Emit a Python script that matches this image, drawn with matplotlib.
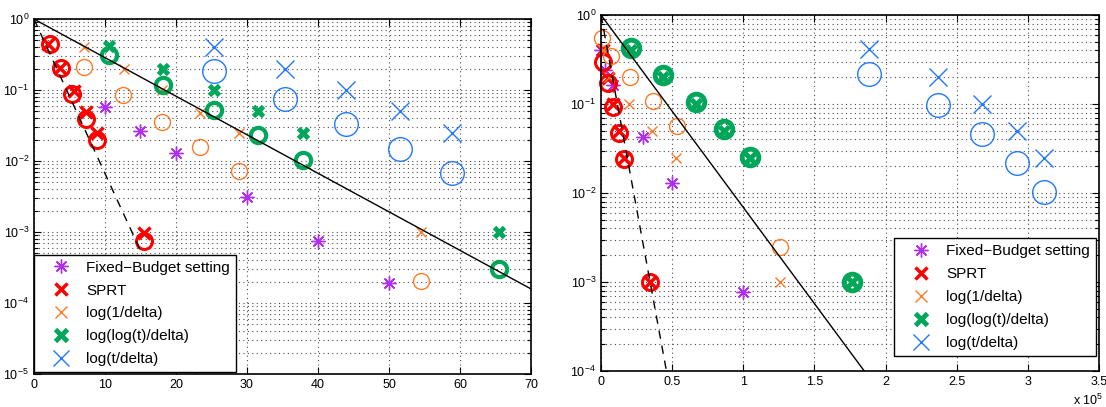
import numpy as np
import matplotlib
matplotlib.use('Agg')
import matplotlib.pyplot as plt
from matplotlib.lines import Line2D
from matplotlib.ticker import LogLocator, FixedLocator, FuncFormatter

plt.rcParams['font.family'] = ['Liberation Sans', 'DejaVu Sans']
plt.rcParams['mathtext.fontset'] = 'custom'
plt.rcParams['mathtext.rm'] = 'Liberation Sans'
plt.rcParams['mathtext.it'] = 'Liberation Sans'

# colours
purple = '#B02EF0'
red = '#FF0000'
orange = '#FF7A26'
green = '#00A65A'
blue = '#2178FF'

labels = ['Fixed\u2212Budget setting', 'SPRT', 'log(1/delta)', 'log(log(t)/delta)', 'log(t/delta)']

# ---- left panel data ----
fb_x_L = [10, 15, 20, 30, 40, 50]
fb_y_L = [0.058, 0.0265, 0.0128, 0.0031, 0.00075, 0.00019]
sprt_dx_L = [2.0, 3.7, 5.6, 7.3, 8.9, 15.5]
sprt_d_L = [0.45, 0.206, 0.098, 0.049, 0.0246, 0.00096]
sprt_ex_L = [2.25, 3.8, 5.4, 7.3, 8.9, 15.5]
sprt_e_L = [0.44, 0.206, 0.087, 0.0394, 0.0198, 0.00075]
l1_dx_L = [7.1, 12.7, 18.1, 23.4, 28.9, 54.5]
l1_d_L = [0.41, 0.2, 0.1, 0.047, 0.025, 0.001]
l1_ex_L = [7.1, 12.5, 18.0, 23.4, 28.9, 54.5]
l1_e_L = [0.213, 0.085, 0.0358, 0.0159, 0.0073, 0.000206]
ll_x_L = [10.5, 18.2, 25.3, 31.6, 37.9, 65.5]
ll_d_L = [0.42, 0.2, 0.1, 0.05, 0.025, 0.001]
ll_e_L = [0.31, 0.118, 0.052, 0.023, 0.0103, 0.0003]
lt_x_L = [25.4, 35.4, 43.9, 51.6, 58.9]
lt_d_L = [0.41, 0.2, 0.1, 0.05, 0.025]
lt_e_L = [0.187, 0.0747, 0.0328, 0.0148, 0.0067]
solid_L = ([0, 70], [1.0, 1.58e-4])
dashed_L = ([0, 23], [1.0, 1.0e-5])

# ---- right panel data (x in units of 1e5) ----
fb_x_R = [0.0, 0.028, 0.087, 0.294, 0.498, 1.0]
fb_y_R = [0.40, 0.24, 0.163, 0.043, 0.013, 0.00078]
sprt_x_R = [0.016, 0.051, 0.087, 0.129, 0.164, 0.345]
sprt_d_R = [0.4, 0.195, 0.1, 0.05, 0.025, 0.001]
sprt_e_R = [0.30, 0.17, 0.093, 0.047, 0.024, 0.001]
l1_dx_R = [0.016, 0.058, 0.2, 0.357, 0.528, 1.256]
l1_d_R = [0.4, 0.2, 0.1, 0.05, 0.025, 0.001]
l1_ex_R = [0.005, 0.068, 0.204, 0.364, 0.533, 1.256]
l1_e_R = [0.55, 0.35, 0.2, 0.109, 0.057, 0.0025]
ll_x_R = [0.211, 0.439, 0.667, 0.866, 1.05, 1.765]
ll_d_R = [0.4, 0.2, 0.1, 0.05, 0.025, 0.001]
ll_e_R = [0.43, 0.212, 0.104, 0.052, 0.0256, 0.001]
lt_x_R = [1.883, 2.37, 2.68, 2.92, 3.11]
lt_d_R = [0.41, 0.2, 0.1, 0.05, 0.025]
lt_e_R = [0.217, 0.097, 0.0456, 0.0216, 0.0103]
solid_R = ([0, 1.85], [1.0, 1.0e-4])
dashed_R = ([0, 0.46], [1.0, 1.0e-4])

asterisk = (8, 2, 0)
sty = {
    'fb': dict(marker=asterisk, ms=10, mew=1, color=purple),
    'sprt_d': dict(marker='x', ms=9, mew=2.5, color=red),
    'sprt_e': dict(marker='o', ms=11.5, mew=2.2, mfc='none', color=red),
    'l1_d': dict(marker='x', ms=7.5, mew=1, color=orange),
    'l1_e': dict(marker='o', ms=11.5, mew=1, mfc='none', color=orange),
    'll_d': dict(marker='x', ms=7.5, mew=3.5, color=green),
    'll_e': dict(marker='o', ms=11, mew=3, mfc='none', color=green),
    'lt_d': dict(marker='x', ms=12.5, mew=1, color=blue),
    'lt_e': dict(marker='o', ms=17, mew=1, mfc='none', color=blue),
}


def pts(ax, x, y, key):
    ax.plot(x, y, ls='none', clip_on=False, **sty[key])


def setup(ax):
    ax.set_yscale('log')
    grid_kw = dict(ls=(0, (1, 3)), lw=0.8, color='0.3')
    ax.grid(True, which='major', **grid_kw)
    ax.yaxis.grid(True, which='minor', **grid_kw)
    ax.tick_params(which='both', direction='in', top=True, right=True, labelsize=9, width=0.8)
    ax.tick_params(which='major', length=5)
    ax.tick_params(which='minor', length=3)
    ax.yaxis.set_minor_locator(LogLocator(base=10, subs=np.arange(2, 10)))
    ax.xaxis.set_minor_locator(FixedLocator([]))
    for s in ax.spines.values():
        s.set_linewidth(1.2)
    ax.set_axisbelow(True)


def add_legend(ax, anchor, loc):
    handles = [
        Line2D([], [], ls='none', **sty['fb']),
        Line2D([], [], ls='none', **sty['sprt_d']),
        Line2D([], [], ls='none', marker='x', ms=8, mew=1, color=orange),
        Line2D([], [], ls='none', marker='x', ms=9, mew=3.5, color=green),
        Line2D([], [], ls='none', marker='x', ms=12, mew=1, color=blue),
    ]
    leg = ax.legend(handles, labels, loc=loc, bbox_to_anchor=anchor, borderaxespad=0,
                    fontsize=11, frameon=True, fancybox=False, edgecolor='black', framealpha=1,
                    handletextpad=0.25, borderpad=0.4, labelspacing=0.58, handlelength=2.75)
    leg.get_frame().set_linewidth(1.0)


fig = plt.figure(figsize=(11.06, 4.07), dpi=100)
axL = fig.add_axes([0.0307, 0.0811, 0.4494, 0.872])
axR = fig.add_axes([0.5434, 0.0885, 0.4503, 0.8747])

# left
setup(axL)
pts(axL, fb_x_L, fb_y_L, 'fb')
pts(axL, sprt_dx_L, sprt_d_L, 'sprt_d')
pts(axL, l1_dx_L, l1_d_L, 'l1_d')
pts(axL, ll_x_L, ll_d_L, 'll_d')
pts(axL, lt_x_L, lt_d_L, 'lt_d')
pts(axL, sprt_ex_L, sprt_e_L, 'sprt_e')
pts(axL, l1_ex_L, l1_e_L, 'l1_e')
pts(axL, ll_x_L, ll_e_L, 'll_e')
pts(axL, lt_x_L, lt_e_L, 'lt_e')
axL.plot(*solid_L, color='black', lw=1)
axL.plot(*dashed_L, color='black', lw=1, ls=(0, (6, 5)))
axL.set_xlim(0, 70)
axL.set_ylim(1e-5, 1)
axL.set_xticks(range(0, 71, 10))
add_legend(axL, (0.0, 0.005), 'lower left')

# right
setup(axR)
pts(axR, fb_x_R, fb_y_R, 'fb')
pts(axR, sprt_x_R, sprt_d_R, 'sprt_d')
pts(axR, l1_dx_R, l1_d_R, 'l1_d')
pts(axR, ll_x_R, ll_d_R, 'll_d')
pts(axR, lt_x_R, lt_d_R, 'lt_d')
pts(axR, sprt_x_R, sprt_e_R, 'sprt_e')
pts(axR, l1_ex_R, l1_e_R, 'l1_e')
axR.plot(ll_x_R, ll_e_R, ls='none', clip_on=False, marker='o', ms=12, mew=3.5, mfc='none', color=green)
pts(axR, lt_x_R, lt_e_R, 'lt_e')
axR.plot(*solid_R, color='black', lw=1)
axR.plot(*dashed_R, color='black', lw=1, ls=(0, (6, 5)))
axR.set_xlim(0, 3.5)
axR.set_ylim(1e-4, 1)
axR.set_xticks(np.arange(0, 3.51, 0.5))
axR.xaxis.set_major_formatter(FuncFormatter(lambda v, p: '%g' % v))
axR.text(0.948, -0.084, r'x 10$^5$', transform=axR.transAxes, fontsize=9, ha='left', va='center')
add_legend(axR, (0.994, 0.042), 'lower right')

fig.savefig('out.png', dpi=100)
